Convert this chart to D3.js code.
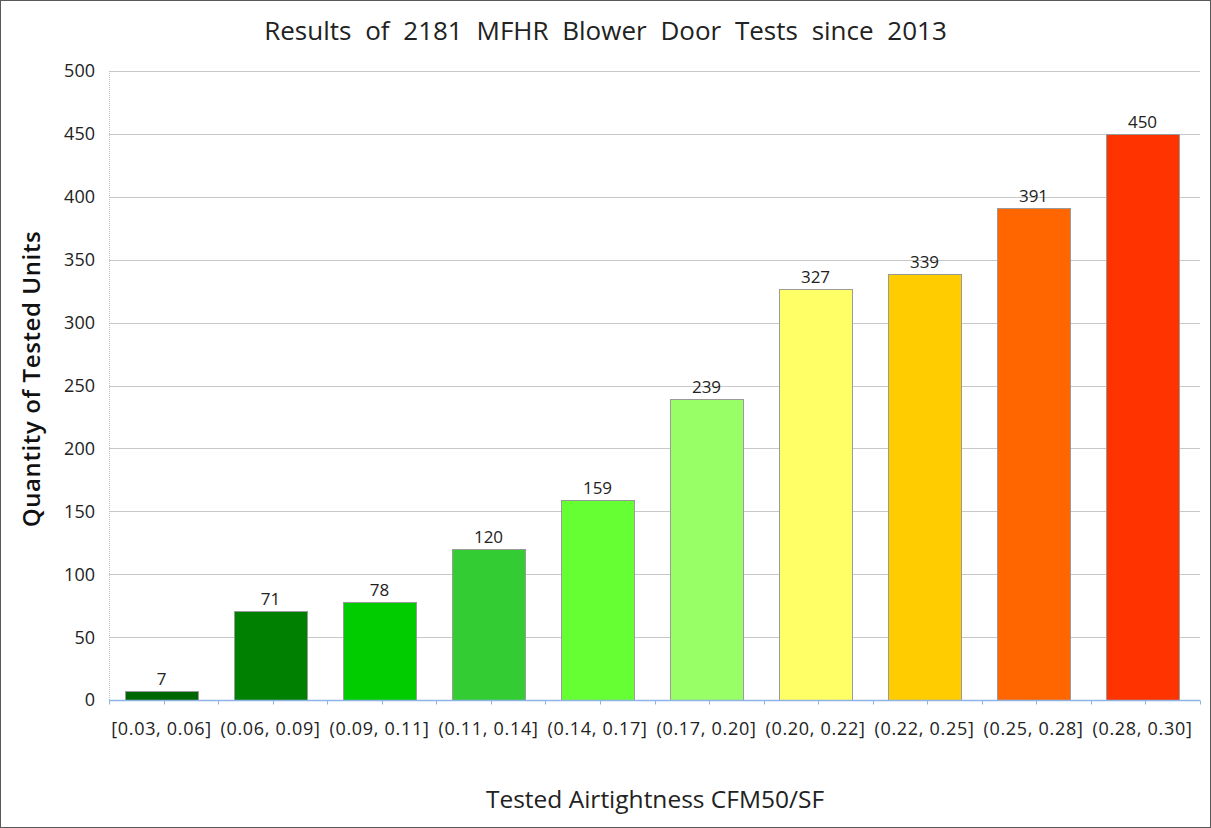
<!DOCTYPE html>
<html>
<head>
<meta charset="utf-8">
<script src="https://cdn.jsdelivr.net/npm/d3@7.9.0/dist/d3.min.js"></script>
<style>
  html, body { margin: 0; padding: 0; background: #fff; }
  svg { display: block; font-family: "Open Sans", sans-serif; }
</style>
</head>
<body>
<div id="chart"></div>
<script>
const categories = ['[0.03, 0.06]', '(0.06, 0.09]', '(0.09, 0.11]', '(0.11, 0.14]', '(0.14, 0.17]',
  '(0.17, 0.20]', '(0.20, 0.22]', '(0.22, 0.25]', '(0.25, 0.28]', '(0.28, 0.30]'];
const counts = [7, 71, 78, 120, 159, 239, 327, 339, 391, 450];
const colors = ['#006600', '#008000', '#00cc00', '#33cc33', '#66ff33',
  '#99ff66', '#ffff66', '#ffcc00', '#ff6600', '#ff3300'];
const yTicks = [0, 50, 100, 150, 200, 250, 300, 350, 400, 450, 500];

const width = 1211, height = 828;
const plot = { left: 109, right: 1200, top: 71, bottom: 700 };

const svg = d3.select('#chart').append('svg')
  .attr('width', width)
  .attr('height', height);

// outer frame
svg.append('rect')
  .attr('x', 0.5).attr('y', 0.5)
  .attr('width', width - 1).attr('height', height - 1)
  .attr('fill', '#fff').attr('stroke', '#595959');

const xScale = d3.scaleBand()
  .domain(categories)
  .range([107, 1197])
  .paddingInner(0.33)
  .paddingOuter(0.165);

const yScale = d3.scaleLinear()
  .domain([0, 500])
  .range([plot.bottom, plot.top]);

// gridlines
svg.append('g')
  .attr('class', 'gridlines')
  .selectAll('line')
  .data(yTicks.filter(d => d > 0))
  .join('line')
  .attr('x1', plot.left).attr('x2', plot.right)
  .attr('y1', d => Math.round(yScale(d)) + 0.5).attr('y2', d => Math.round(yScale(d)) + 0.5)
  .attr('stroke', '#c8c8c8');

// left axis line (dotted)
svg.append('line')
  .attr('x1', plot.left + 0.5).attr('x2', plot.left + 0.5)
  .attr('y1', plot.top).attr('y2', plot.bottom)
  .attr('stroke', '#bfbfbf').attr('stroke-dasharray', '1,1');

// Y tick labels
svg.append('g')
  .selectAll('text')
  .data(yTicks)
  .join('text')
  .attr('x', 95)
  .attr('y', d => yScale(d))
  .attr('dy', '0.36em')
  .attr('text-anchor', 'end')
  .attr('font-size', 18)
  .attr('fill', '#222')
  .text(d => d);

// bars
svg.append('g')
  .selectAll('rect')
  .data(counts)
  .join('rect')
  .attr('x', (d, i) => Math.round(xScale(categories[i])) + 0.5)
  .attr('y', d => Math.round(yScale(d)) + 0.5)
  .attr('width', Math.round(xScale.bandwidth()))
  .attr('height', d => Math.round(yScale(0)) - Math.round(yScale(d)))
  .attr('fill', (d, i) => colors[i])
  .attr('stroke', '#9a9a9a');

// value labels
svg.append('g')
  .selectAll('text')
  .data(counts)
  .join('text')
  .attr('x', (d, i) => xScale(categories[i]) + xScale.bandwidth() / 2)
  .attr('y', d => yScale(d) - 6)
  .attr('text-anchor', 'middle')
  .attr('font-size', 17)
  .attr('fill', '#222')
  .text(d => d);

// x axis line + ticks
const step = (plot.right - plot.left) / categories.length;
const axisY = plot.bottom + 0.5;
svg.append('line')
  .attr('x1', plot.left).attr('x2', plot.right)
  .attr('y1', axisY).attr('y2', axisY)
  .attr('stroke', '#8eb4e3').attr('stroke-width', 1.5);
svg.append('g')
  .selectAll('line')
  .data(d3.range(0, 21))
  .join('line')
  .attr('x1', i => Math.round(plot.left + i * step / 2) + 0.5)
  .attr('x2', i => Math.round(plot.left + i * step / 2) + 0.5)
  .attr('y1', axisY).attr('y2', axisY + 4)
  .attr('stroke', '#8eb4e3');

// category labels
svg.append('g')
  .selectAll('text')
  .data(categories)
  .join('text')
  .attr('x', d => xScale(d) + xScale.bandwidth() / 2)
  .attr('y', 735)
  .attr('text-anchor', 'middle')
  .attr('font-size', 18)
  .attr('letter-spacing', 0.7)
  .attr('fill', '#222')
  .text(d => d);

// title
svg.append('text')
  .attr('x', width / 2)
  .attr('y', 40)
  .attr('text-anchor', 'middle')
  .attr('font-size', 26)
  .attr('word-spacing', 7)
  .attr('fill', '#222')
  .text('Results of 2181 MFHR Blower Door Tests since 2013');

// axis titles
svg.append('text')
  .attr('x', 655)
  .attr('y', 808)
  .attr('text-anchor', 'middle')
  .attr('font-size', 24.5)
  .attr('fill', '#222')
  .text('Tested Airtightness CFM50/SF');

svg.append('text')
  .attr('transform', `translate(40, ${(228 + 530) / 2}) rotate(-90)`)
  .attr('text-anchor', 'middle')
  .attr('font-size', 24)
  .attr('letter-spacing', 0.6)
  .attr('font-weight', 600)
  .attr('fill', '#111')
  .text('Quantity of Tested Units');
</script>
</body>
</html>
